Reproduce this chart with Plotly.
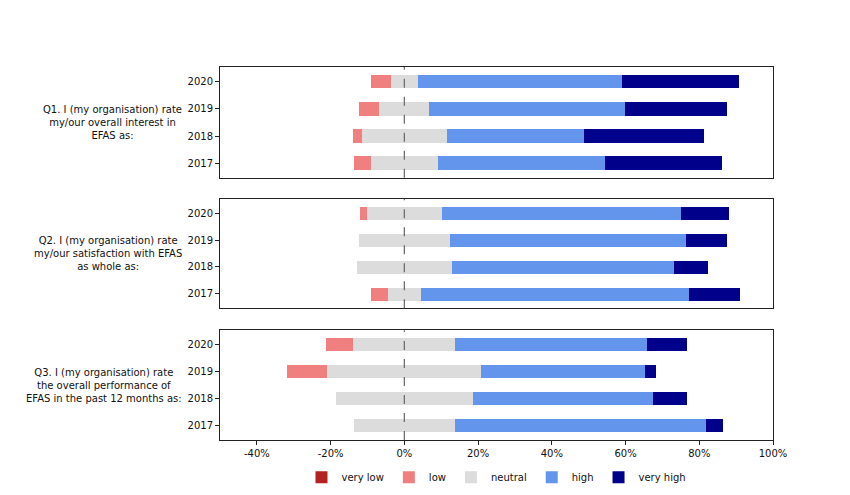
import plotly.graph_objects as go
from plotly.subplots import make_subplots

years = ["2017", "2018", "2019", "2020"]
questions = [
    "Q1. I (my organisation) rate<br>my/our overall interest in<br>EFAS as:",
    "Q2. I (my organisation) rate<br>my/our satisfaction with EFAS<br>as whole as:",
    "Q3. I (my organisation) rate<br>the overall performance of<br>EFAS in the past 12 months as:",
]

# percentages per year (2017, 2018, 2019, 2020)
q1_very_low = [0, 0, 0, 0]
q1_low = [4.6, 2.4, 5.6, 5.5]
q1_neutral = [18.0, 23.1, 13.6, 7.3]
q1_high = [45.4, 37.2, 53.0, 55.5]
q1_very_high = [31.8, 32.6, 27.6, 31.5]

q2_very_low = [0, 0, 0, 0]
q2_low = [4.6, 0, 0, 1.8]
q2_neutral = [8.9, 25.6, 24.8, 20.3]
q2_high = [72.7, 60.4, 64.0, 64.8]
q2_very_high = [13.8, 9.2, 11.0, 13.0]

q3_very_low = [0, 0, 0, 0]
q3_low = [0, 0, 11.0, 7.5]
q3_neutral = [27.3, 37.2, 41.7, 27.6]
q3_high = [68.2, 48.8, 44.5, 51.9]
q3_very_high = [4.5, 9.4, 2.8, 11.1]

data = [
    (q1_very_low, q1_low, q1_neutral, q1_high, q1_very_high),
    (q2_very_low, q2_low, q2_neutral, q2_high, q2_very_high),
    (q3_very_low, q3_low, q3_neutral, q3_high, q3_very_high),
]

category_names = ["very low", "low", "neutral", "high", "very high"]
colors = ["#b22222", "#f08080", "#dcdcdc", "#6495ed", "#00008b"]

x_ticks = [-40, -20, 0, 20, 40, 60, 80, 100]
x_ticklabels = ["-40%", "-20%", "0%", "20%", "40%", "60%", "80%", "100%"]

FONT = "DejaVu Sans"

fig = make_subplots(rows=3, cols=1, shared_xaxes=False, vertical_spacing=0.059)

for i, (vl, lo, ne, hi, vh) in enumerate(data):
    row = i + 1
    show = (i == 0)
    bw = 0.5
    # negative side: neutral half, low, very low (stacked outward)
    fig.add_trace(go.Bar(y=years, x=[-v / 2 for v in ne], orientation="h", width=bw,
                         marker=dict(color=colors[2], line=dict(width=0)),
                         name="neutral", legendgroup="neutral", showlegend=False,
                         hoverinfo="skip"), row=row, col=1)
    fig.add_trace(go.Bar(y=years, x=[v / 2 for v in ne], orientation="h", width=bw,
                         marker=dict(color=colors[2], line=dict(width=0)),
                         name="neutral", legendgroup="neutral", showlegend=show,
                         legendrank=3), row=row, col=1)
    fig.add_trace(go.Bar(y=years, x=[-v for v in lo], orientation="h", width=bw,
                         marker=dict(color=colors[1], line=dict(width=0)),
                         name="low", legendgroup="low", showlegend=show,
                         legendrank=2), row=row, col=1)
    fig.add_trace(go.Bar(y=years, x=[-v for v in vl], orientation="h", width=bw,
                         marker=dict(color=colors[0], line=dict(width=0)),
                         name="very low", legendgroup="very low", showlegend=show,
                         legendrank=1), row=row, col=1)
    fig.add_trace(go.Bar(y=years, x=hi, orientation="h", width=bw,
                         marker=dict(color=colors[3], line=dict(width=0)),
                         name="high", legendgroup="high", showlegend=show,
                         legendrank=4), row=row, col=1)
    fig.add_trace(go.Bar(y=years, x=vh, orientation="h", width=bw,
                         marker=dict(color=colors[4], line=dict(width=0)),
                         name="very high", legendgroup="very high", showlegend=show,
                         legendrank=5), row=row, col=1)

domains = [[0.703, 1.0], [0.353, 0.647], [0.0, 0.294]]
for i in range(3):
    ax = "" if i == 0 else str(i + 1)
    fig.layout["yaxis" + ax].update(
        domain=domains[i], type="category", categoryorder="array", categoryarray=years,
        range=[-0.535, 3.535], showline=True, mirror=True, linecolor="#222",
        linewidth=1, ticks="outside", ticklen=4, tickcolor="#222",
        tickfont=dict(family=FONT, size=10, color="#111"), showgrid=False,
        zeroline=False,
    )
    fig.layout["xaxis" + ax].update(
        range=[-50, 100], showline=True, mirror=True, linecolor="#222",
        linewidth=1, showgrid=False, zeroline=False,
        tickvals=x_ticks, ticktext=x_ticklabels,
        ticks="outside" if i == 2 else "", ticklen=4, tickcolor="#222",
        showticklabels=(i == 2),
        tickfont=dict(family=FONT, size=10, color="#111"),
    )
    fig.add_shape(type="line", xref="x" + ax, yref="y" + ax + " domain",
                  x0=0, x1=0, y0=0, y1=1,
                  line=dict(color="#666", width=1.2, dash="dash"), layer="above")
    fig.add_annotation(text=questions[i], xref="paper", yref="paper",
                       x=-0.065, y=sum(domains[i]) / 2, xanchor="right",
                       yanchor="middle", align="center", showarrow=False,
                       font=dict(family=FONT, size=10, color="#111"))

fig.update_layout(
    width=850, height=495,
    barmode="relative", bargap=0,
    margin=dict(l=212, r=85, t=59, b=62),
    plot_bgcolor="white", paper_bgcolor="white",
    font=dict(family=FONT, size=10, color="#111"),
    legend=dict(orientation="h", x=0.5, xanchor="center", y=-0.097,
                yanchor="middle", font=dict(family=FONT, size=10),
                traceorder="normal", itemwidth=30),
)

fig.write_html("out.html")
